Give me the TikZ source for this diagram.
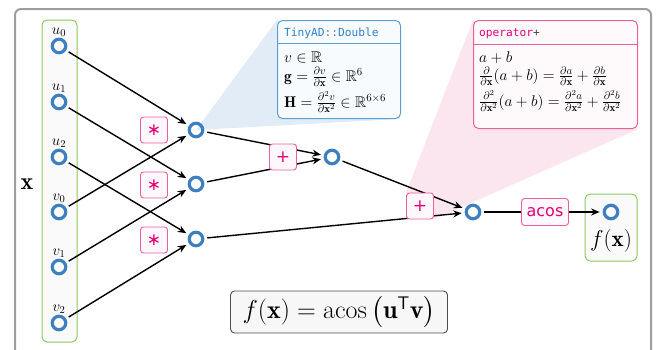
\RequirePackage{fix-cm}
\documentclass[tikz,border=0pt]{standalone}
\usepackage{amsmath,amssymb}
\usepackage{fontspec}
\newfontfamily\opsans{DejaVu Sans}
\newfontfamily\codefont{DejaVu Sans Mono}
\usetikzlibrary{arrows.meta,backgrounds}

\definecolor{varblue}{RGB}{61,127,191}
\definecolor{oppink}{RGB}{228,0,120}
\definecolor{opborder}{RGB}{234,96,152}
\definecolor{dblblue}{RGB}{92,158,214}
\definecolor{codeblue}{RGB}{48,128,200}
\definecolor{wedgeblue}{RGB}{226,236,247}
\definecolor{wedgepink}{RGB}{251,229,238}
\definecolor{setgreen}{RGB}{142,200,95}
\definecolor{framegray}{RGB}{158,158,158}

\tikzset{
  var/.style={circle, draw=varblue, line width=3.2pt, minimum size=13.5pt, inner sep=0pt},
  varlabel/.style={font=\fontsize{15}{18}\selectfont},
  op/.style={draw=opborder, fill=oppink!3, line width=0.9pt, rounded corners=3pt, text=oppink,
    font=\opsans\fontsize{17}{17}\selectfont, minimum width=27pt, minimum height=26pt, inner sep=0pt},
  flow/.style={-{Stealth[length=8.5pt,width=7pt]}, line width=1.4pt, shorten <=3pt, shorten >=3pt},
  setbox/.style={draw=setgreen, fill=black!2, line width=1pt, rounded corners=5pt},
  infobox/.style={line width=1pt, rounded corners=5pt, anchor=north west, inner sep=0pt},
  infotext/.style={anchor=base west, inner sep=0pt, font=\fontsize{15.5}{18}\selectfont},
  codetext/.style={anchor=base west, inner sep=0pt, font=\codefont\fontsize{11.2}{13}\selectfont},
}

\begin{document}
\begin{tikzpicture}[x=1pt, y=-1pt]
  \useasboundingbox (0,0) rectangle (657,349);
  \begin{scope}
    \clip (0,0) rectangle (657,349);
    \draw[framegray, line width=2pt, rounded corners=6pt] (15,9) rectangle (651,372);
  \end{scope}

  % ---- Inputs ----
  \draw[setbox] (42,20) rectangle (77,342);
  \node[font=\fontsize{24}{24}\selectfont] (xlabel) at (27,184) {$\mathbf{x}$};
  \foreach \name/\lab/\y in {u0/u_0/46, u1/u_1/102, u2/u_2/157, v0/v_0/212, v1/v_1/267, v2/v_2/323}
    \node[var, label={[varlabel, label distance=-2.5pt]above:$\lab$}] (\name) at (59,\y) {};

  % ---- Products ----
  \foreach \i/\y in {0/130, 1/184, 2/239} \node[var] (p\i) at (196,\y) {};
  \foreach \a/\b in {u0/p0, v0/p0, u1/p1, v1/p1, u2/p2, v2/p2} \draw[flow] (\a) -- (\b);
  \foreach \i/\y in {0/130, 1/185, 2/240} \node[op] (mul\i) at (154,\y) {∗};

  % ---- Sums and acos ----
  \node[var] (s0) at (332,157) {};
  \node[var] (s1) at (473,212) {};
  \draw[setbox] (585,194) rectangle (637,261);
  \node[var] (fx) at (611,212) {};
  \node[font=\fontsize{23}{23}\selectfont] (fxlabel) at (611,241) {$f(\mathbf{x})$};
  \draw[flow] (p0) -- (s0);
  \draw[flow] (p1) -- (s0);
  \draw[flow] (s0) -- (s1);
  \draw[flow] (p2) -- (s1);
  \node[op] (add0) at (283,157) {+};
  \node[op] (add1) at (420,206) {+};
  \node[op, font=\opsans\fontsize{16}{16}\selectfont, minimum width=47pt, minimum height=27pt] (acosop) at (545,212) {acos};
  \draw[line width=1.4pt, shorten <=3pt] (s1) -- (acosop);
  \draw[flow, shorten <=0pt] (acosop) -- (fx);

  % ---- Formula ----
  \node[draw=black!70, fill=black!3, line width=0.9pt, rounded corners=4pt, minimum width=217pt,
    minimum height=42pt, font=\fontsize{26}{26}\selectfont] (formula) at (339,312)
    {$f(\mathbf{x}) = \operatorname{acos}\,\bigl(\mathbf{u}^{\mathsf{T}}\mathbf{v}\bigr)$};

  % ---- TinyAD::Double box ----
  \node[infobox, draw=dblblue, fill=dblblue!4, minimum width=123pt, minimum height=98pt] (dblbox) at (277,20) {};
  \draw[dblblue, line width=1pt] (dblbox.west |- 0,43) -- (dblbox.east |- 0,43);
  \node[codetext] (dblhead) at (284,36) {\textcolor{codeblue}{TinyAD}\textcolor{black!55}{::}\textcolor{codeblue}{Double}};
  \node[infotext] (dblv) at (284,62) {$v \in \mathbb{R}$};
  \node[infotext] (dblg) at (284,81) {$\mathbf{g} = \frac{\partial v}{\partial \mathbf{x}} \in \mathbb{R}^6$};
  \node[infotext] (dblH) at (284,107) {$\mathbf{H} = \frac{\partial^2 v}{\partial \mathbf{x}^2} \in \mathbb{R}^{6\times 6}$};

  % ---- operator+ box ----
  \node[infobox, draw=opborder, fill=oppink!2, minimum width=164pt, minimum height=108pt] (addbox) at (473,20) {};
  \draw[opborder, line width=1pt] (addbox.west |- 0,44) -- (addbox.east |- 0,44);
  \node[codetext] (addhead) at (479,36) {\textcolor{oppink}{operator}\textcolor{black!70}{+}};
  \node[infotext] (adda) at (479,62) {$a + b$};
  \node[infotext] (addd1) at (479,80.5) {$\frac{\partial}{\partial \mathbf{x}}(a+b) = \frac{\partial a}{\partial \mathbf{x}} + \frac{\partial b}{\partial \mathbf{x}}$};
  \node[infotext] (addd2) at (479,106) {$\frac{\partial^2}{\partial \mathbf{x}^2}(a+b) = \frac{\partial^2 a}{\partial \mathbf{x}^2} + \frac{\partial^2 b}{\partial \mathbf{x}^2}$};

  % ---- Wedges ----
  \begin{pgfonlayer}{background}
    \fill[wedgeblue] (p0.center) -- (dblbox.north west) -- (dblbox.south east) -- cycle;
    \fill[wedgepink] (addbox.north west) -- (add1.north west) -- (add1.south east) -- (addbox.south east) -- cycle;
  \end{pgfonlayer}
\end{tikzpicture}
\end{document}
